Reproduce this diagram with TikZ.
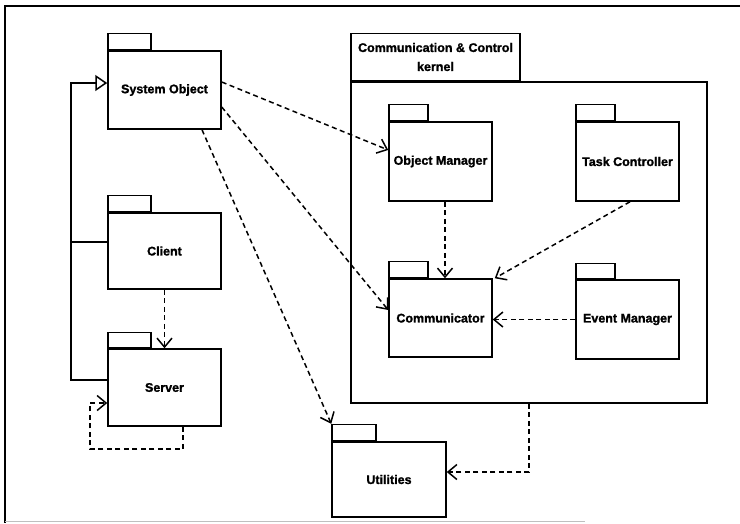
\documentclass[tikz,border=0pt]{standalone}
\usepackage{fontspec}
\setmainfont{Liberation Sans}[FakeBold=1.3]
\usetikzlibrary{arrows.meta}
\tikzset{
  body/.style={draw, line width=1.5pt, fill=white, inner sep=0pt,
    font=\fontsize{12.5}{14}\selectfont\bfseries},
  tabbox/.style={draw, line width=1.5pt, inner sep=0pt, anchor=south west,
    minimum height=16pt},
  dep/.style={line width=1.5pt, dash pattern=on 5pt off 3.5pt,
    -{Straight Barb[length=9pt,width=15pt,line width=1.5pt]}},
  gen/.style={line width=1.5pt,
    -{Triangle[open,length=12pt,width=16pt,line width=1.5pt]}},
}
\begin{document}
\begin{tikzpicture}[x=1pt,y=-1pt]
\useasboundingbox (0,0) rectangle (740,523);

% frame
\draw[line width=2.5pt] (740,6) -- (5,6) -- (5,523);
\draw[line width=1pt, black!25] (5,521) -- (585,521);

% kernel package
\node[body, minimum width=356pt, minimum height=321pt] (kernel) at (529,242.5) {};
\node[tabbox, minimum width=169pt, minimum height=47pt, align=center,
  font=\fontsize{12.5}{19}\selectfont\bfseries] (kerneltab) at (kernel.north west)
  {Communication \& Control\\kernel};

% packages
\node[body, minimum width=113pt, minimum height=78pt] (sys) at (164.5,90) {System Object};
\node[tabbox, minimum width=43pt] (systab) at (sys.north west) {};
\node[body, minimum width=113pt, minimum height=76pt] (client) at (164.5,251) {Client};
\node[tabbox, minimum width=43pt] (clienttab) at (client.north west) {};
\node[body, minimum width=113pt, minimum height=77pt] (server) at (164.5,387.5) {Server};
\node[tabbox, minimum width=43pt, minimum height=15pt] (servertab) at (server.north west) {};

\node[body, minimum width=103pt, minimum height=79pt] (objmgr) at (440.5,161.5) {Object Manager};
\node[tabbox, minimum width=39pt] (objmgrtab) at (objmgr.north west) {};
\node[body, minimum width=103pt, minimum height=79pt] (taskctl) at (627.5,161.5) {Task Controller};
\node[tabbox, minimum width=39pt] (taskctltab) at (taskctl.north west) {};
\node[body, minimum width=103pt, minimum height=78pt] (comm) at (440.5,318) {Communicator};
\node[tabbox, minimum width=39pt] (commtab) at (comm.north west) {};
\node[body, minimum width=103pt, minimum height=79pt] (evtmgr) at (627.5,319.5) {Event Manager};
\node[tabbox, minimum width=39pt, minimum height=15pt] (evtmgrtab) at (evtmgr.north west) {};

\node[body, minimum width=114pt, minimum height=75pt] (util) at (389,479.5) {Utilities};
\node[tabbox, minimum width=44pt] (utiltab) at (util.north west) {};

% generalization to System Object
\coordinate (trunk) at (71,83);
\coordinate (clientjoin) at ([yshift=9pt]client.west);
\draw[gen] ([yshift=7.5pt]server.west) -| (trunk) -- ([yshift=7pt]sys.west);
\draw[line width=1.5pt] (clientjoin) -- (clientjoin -| trunk);

% dependencies
\draw[dep] (client.south) -- (server.north);
\draw[dep] ([xshift=18.5pt]server.south) |- (90,449) |- ([yshift=-15.5pt]server.west);
\draw[dep] ([yshift=8pt]sys.east) -- ([yshift=11.5pt]objmgr.west);
\draw[dep] ([yshift=-17pt]sys.east) -- ([yshift=8pt]comm.west);
\draw[dep] ([xshift=37.5pt]sys.south) -- (utiltab.north west);
\draw[dep] ([xshift=4.5pt]objmgr.south) -- ([xshift=4.5pt]comm.north);
\draw[dep] ([xshift=2.5pt]taskctl.south) -- ([xshift=2pt]comm.north east);
\draw[dep] (evtmgr.west) -- (comm.east |- evtmgr.west);
\draw[dep] (kernel.south) |- ([yshift=7.5pt]util.east);
\end{tikzpicture}
\end{document}
